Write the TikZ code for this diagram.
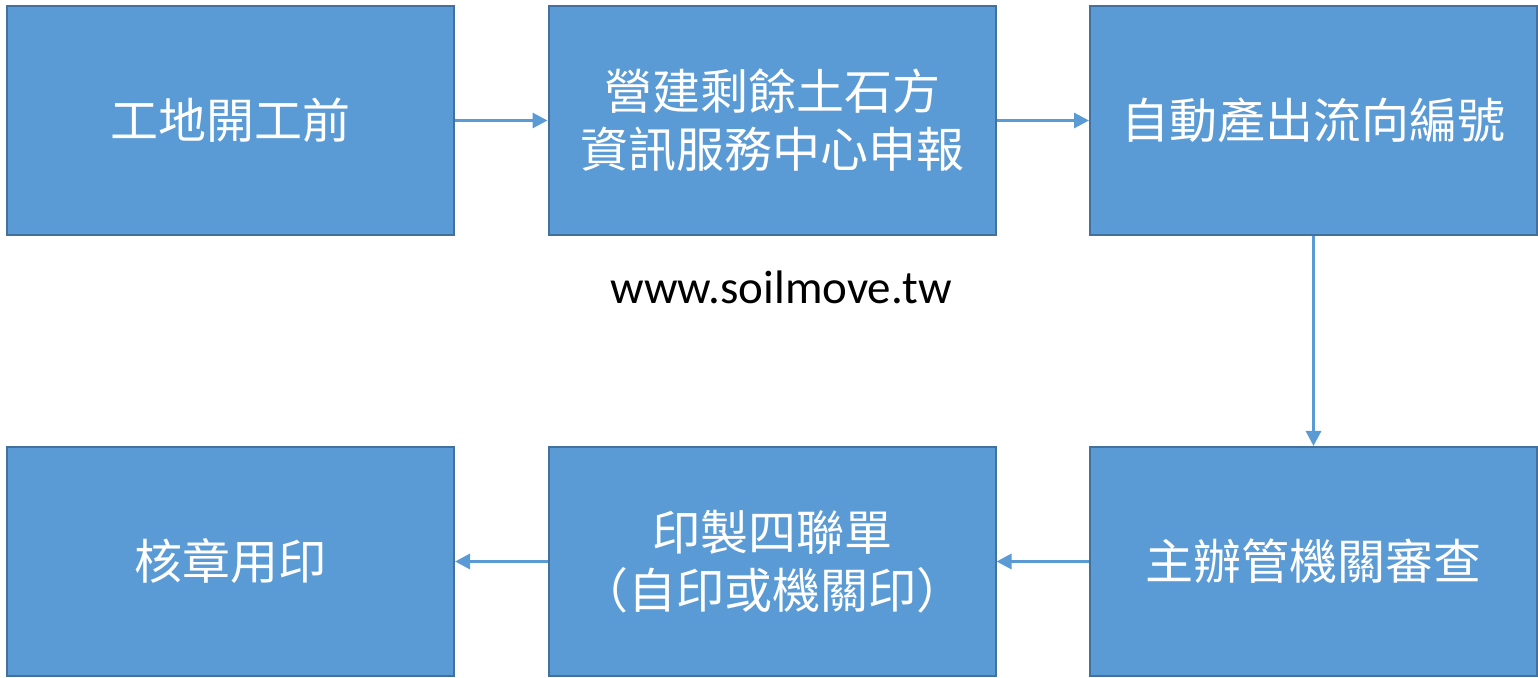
\documentclass[tikz,border=0pt]{standalone}
\usepackage{fontspec}
\newfontfamily\cjk{Noto Sans CJK TC}
\setmainfont{Carlito}
\usetikzlibrary{arrows.meta}
\definecolor{boxfill}{HTML}{5B9BD5}
\definecolor{boxline}{HTML}{41719C}
\begin{document}
\begin{tikzpicture}[x=0.5pt,y=-0.5pt,
  stepbox/.style={draw=boxline, line width=1pt, fill=boxfill,
    minimum width=223.5pt, minimum height=114.5pt, inner sep=0pt,
    text=white, font=\cjk\fontsize{24}{29}\selectfont, align=center},
  conn/.style={draw=boxfill, line width=1.5pt, -{Triangle[length=7.5pt,width=7.5pt]}}]
\useasboundingbox (0,0) rectangle (1538,678);
\node[stepbox] (a) at (230.5,120.5) {工地開工前};
\node[stepbox] (b) at (772,120.5) {營建剩餘土石方\\資訊服務中心申報};
\node[stepbox] (c) at (1313.5,120.5) {自動產出流向編號};
\node[stepbox] (d) at (1313.5,561.5) {主辦管機關審查};
\node[stepbox] (e) at (772,561.5) {印製四聯單\\（自印或機關印）};
\node[stepbox] (f) at (230.5,561.5) {核章用印};
\node[font=\fontsize{23.5}{28}\selectfont, text=black] (url) at (781,287) {www.soilmove.tw};
\draw[conn] (a) -- (b);
\draw[conn] (b) -- (c);
\draw[conn] (c) -- (d);
\draw[conn] (d) -- (e);
\draw[conn] (e) -- (f);
\end{tikzpicture}
\end{document}
